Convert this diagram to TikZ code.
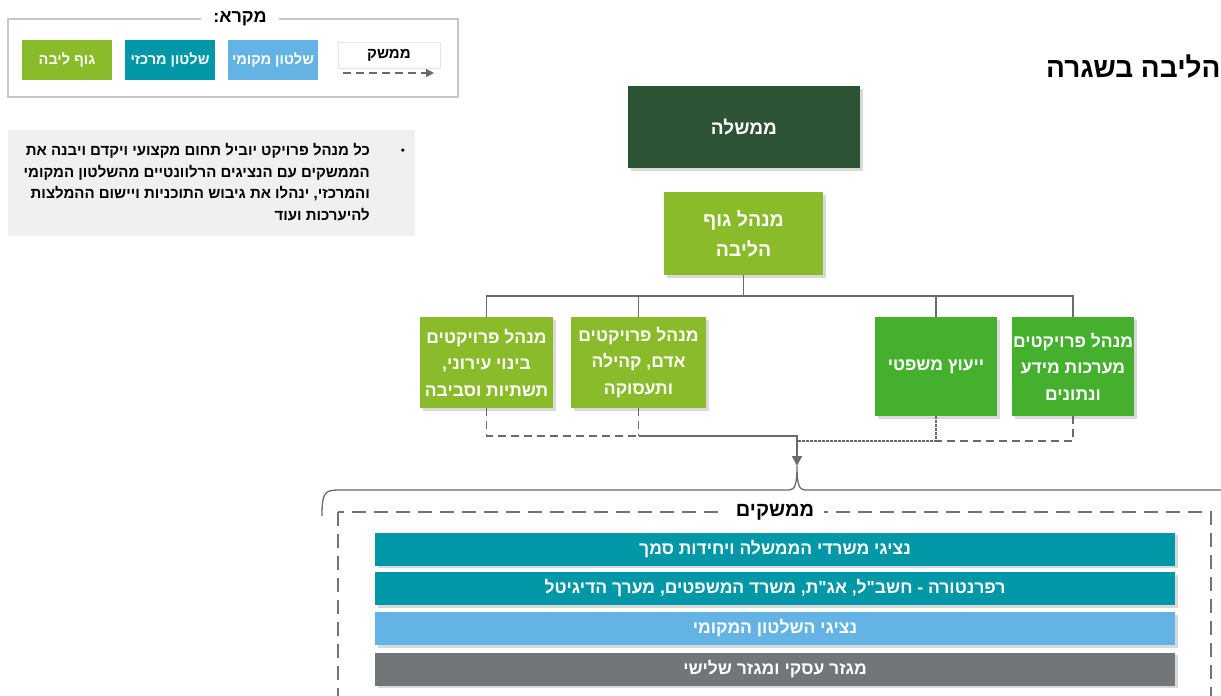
\documentclass[tikz,border=0pt]{standalone}
\usepackage{fontspec}
\newfontfamily\hebfont[Script=Hebrew]{Liberation Sans}
\TeXXeTstate=1
\usetikzlibrary{arrows.meta,shadows}
\definecolor{govgreen}{HTML}{2C5434}
\definecolor{leafgreen}{HTML}{8ABB2A}
\definecolor{grassgreen}{HTML}{45AF2E}
\definecolor{centralteal}{HTML}{0098A7}
\definecolor{localblue}{HTML}{63B4E4}
\definecolor{sectorgray}{HTML}{737678}
\definecolor{notegray}{HTML}{F0F0F0}
\definecolor{wiregray}{HTML}{6A6A6A}
\newcommand\heb[1]{{\hebfont\bfseries\beginR #1\endR}}
\begin{document}
\begin{tikzpicture}[x=1pt,y=-1pt,
		unit/.style={fill=#1,text=white,inner sep=0pt,align=center,
			drop shadow={shadow xshift=2.5pt,shadow yshift=-2.5pt,opacity=.3},
			font=\fontsize{17.5}{26.5}\selectfont},
		bar/.style={unit=#1,minimum width=800pt,minimum height=33pt,font=\fontsize{17.5}{20}\selectfont},
		keybox/.style={fill=#1,text=white,minimum width=90pt,minimum height=40pt,inner sep=0pt,
			font=\fontsize{14.5}{18}\selectfont},
		wire/.style={draw=wiregray,line width=1.5pt},
		link/.style={wire,dash pattern=on 8pt off 5pt}]
	\useasboundingbox (0,0) rectangle (1221,696);

	% legend
	\draw[draw=black!22,line width=1.5pt] (8,19) rectangle (458,97);
	\node[fill=white,inner xsep=12pt,font=\fontsize{18}{20}\selectfont] (keytitle) at (240,19) {\heb{מקרא:}};
	\node[keybox=leafgreen] (keycore) at (67,60) {\heb{גוף ליבה}};
	\node[keybox=centralteal] (keycentral) at (170,60) {\heb{שלטון מרכזי}};
	\node[keybox=localblue] (keylocal) at (273,60) {\heb{שלטון מקומי}};
	\node[draw=black!10,fill=white,minimum width=102pt,minimum height=26pt,
		font=\fontsize{15}{18}\selectfont] (keylink) at (389,55) {\heb{ממשק}};
	\coordinate (keyfrom) at (343,73);
	\coordinate (keyto) at (434,73);
	\draw[link,-{Triangle[length=8pt,width=8pt]}] (keyfrom) -- (keyto);

	% note
	\node[fill=notegray,minimum width=407pt,minimum height=106pt,inner sep=0pt] (note) at (211.5,183) {};
	\node[anchor=north east,align=right,inner sep=0pt,font=\fontsize{15}{21.7}\selectfont] (notetext) at (370,143)
		{\heb{כל מנהל פרויקט יוביל תחום מקצועי ויקדם ויבנה את}\\
		\heb{הממשקים עם הנציגים הרלוונטיים מהשלטון המקומי}\\
		\heb{והמרכזי, ינהלו את גיבוש התוכניות ויישום ההמלצות}\\
		\heb{להיערכות ועוד}};
	\node[font=\fontsize{12}{12}\selectfont] (dot) at (403,151) {\textbullet};

	\node[anchor=west,inner sep=0pt,font=\fontsize{28}{31}\selectfont] (title) at (1046,67) {\heb{הליבה בשגרה}};

	% boxes
	\node[unit=govgreen,minimum width=232pt,minimum height=82pt,font=\fontsize{19}{24}\selectfont] (gov) at (744,127) {\heb{ממשלה}};
	\node[unit=leafgreen,minimum width=159pt,minimum height=83pt,font=\fontsize{19.5}{30}\selectfont] (core) at (743.5,233.5)
		{\heb{מנהל גוף}\\\heb{הליבה}};
	\node[unit=leafgreen,minimum width=133pt,minimum height=91pt] (urban) at (486.5,362.5)
		{\heb{מנהל פרויקטים}\\\heb{בינוי עירוני,}\\\heb{תשתיות וסביבה}};
	\node[unit=leafgreen,minimum width=135pt,minimum height=91pt] (people) at (638.5,362.5)
		{\heb{מנהל פרויקטים}\\\heb{אדם, קהילה}\\\heb{ותעסוקה}};
	\node[unit=grassgreen,minimum width=122pt,minimum height=99pt] (legal) at (936,366.5) {\heb{ייעוץ משפטי}};
	\node[unit=grassgreen,minimum width=122pt,minimum height=99pt] (data) at (1073,366.5)
		{\heb{מנהל פרויקטים}\\\heb{מערכות מידע}\\\heb{ונתונים}};

	\coordinate (bus) at (743.5,296);
	\draw[wire] (core) -- (bus) -| (urban);
	\draw[wire] (bus) -| (people);
	\draw[wire] (bus) -| (legal);
	\draw[wire] (bus) -| (data);

	\coordinate (merge) at (797,436);
	\coordinate (mergeR) at (797,441);
	\coordinate (tip) at (797,466);
	\draw[link] (urban) |- (people.south |- merge);
	\draw[link] (people) -- (people.south |- merge);
	\draw[wire,-{Triangle[length=10pt,width=10pt]}] (people.south |- merge) -- (merge) -- (tip);
	\draw[link] (data) |- (legal.south |- mergeR);
	\draw[link,dash pattern=on 3pt off 1pt] (legal) |- (mergeR);

	% brace
	\draw[wire,line width=1.3pt] (322,516) .. controls (322,494) and (324,490) .. (338,490) -- (789,490)
		.. controls (795,490) and (797,484) .. (tip) .. controls (797,484) and (799,490) .. (805,490) -- (1240,490);

	% interfaces
	\draw[draw=black!55,line width=2pt,dash pattern=on 14pt off 8pt] (338,512) rectangle (1211,720);
	\node[fill=white,inner xsep=10pt,font=\fontsize{20}{22}\selectfont] (ifaces) at (775,512) {\heb{ממשקים}};
	\node[bar=centralteal] (ministries) at (775,549) {\heb{נציגי משרדי הממשלה ויחידות סמך}};
	\node[bar=centralteal] (referents) at (775,588.5) {\heb{רפרנטורה - חשב"ל, אג"ת, משרד המשפטים, מערך הדיגיטל}};
	\node[bar=localblue] (localreps) at (775,628.5) {\heb{נציגי השלטון המקומי}};
	\node[bar=sectorgray] (sectors) at (775,669) {\heb{מגזר עסקי ומגזר שלישי}};
\end{tikzpicture}
\end{document}
